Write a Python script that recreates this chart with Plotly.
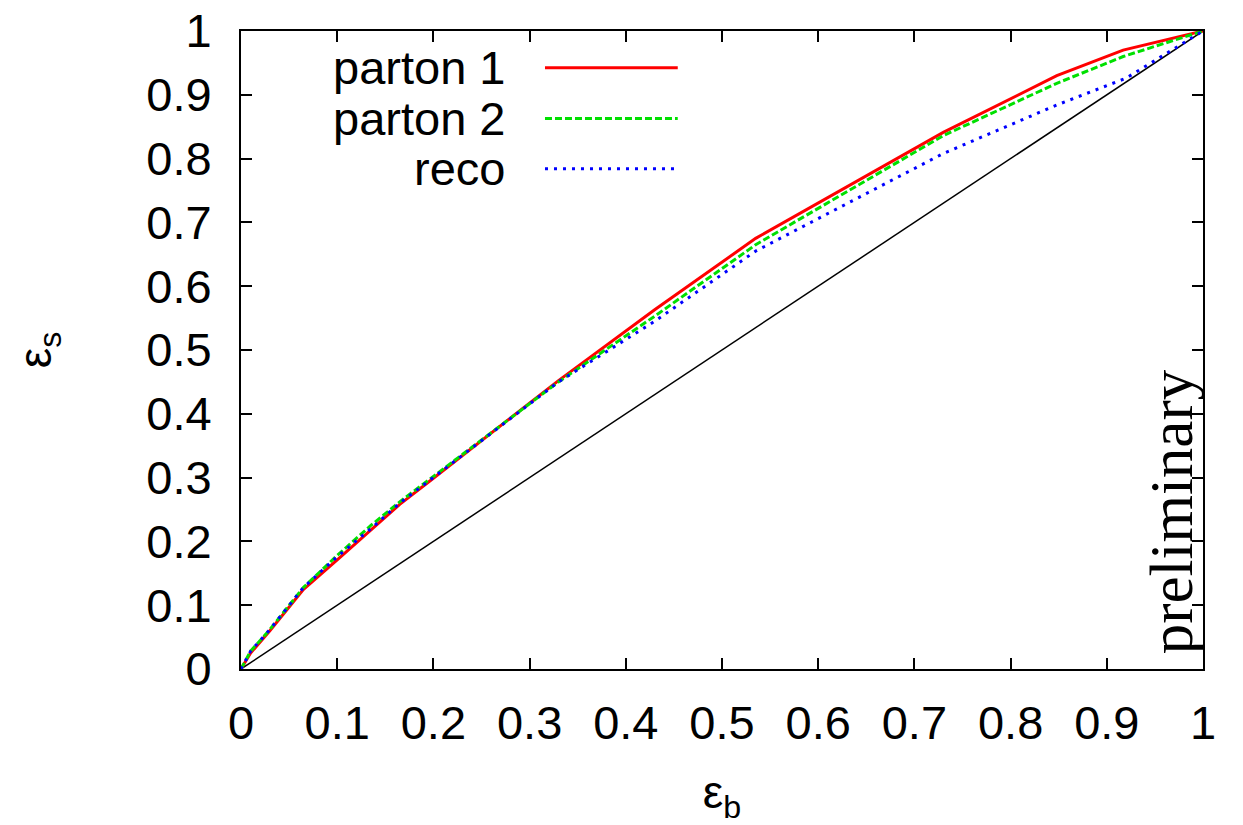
import plotly.graph_objects as go

# Data
parton1_x = [0, 0.01, 0.03, 0.065, 0.1, 0.135, 0.165, 0.2, 0.33, 0.43, 0.535, 0.73, 0.848, 0.917, 1.0]
parton1_y = [0, 0.025, 0.06, 0.125, 0.171, 0.218, 0.258, 0.299, 0.452, 0.563, 0.675, 0.841, 0.930, 0.970, 1.0]

parton2_x = [0, 0.01, 0.03, 0.065, 0.1, 0.135, 0.165, 0.2, 0.33, 0.43, 0.535, 0.73, 0.848, 0.917, 1.0]
parton2_y = [0, 0.028, 0.062, 0.128, 0.178, 0.225, 0.262, 0.302, 0.450, 0.553, 0.665, 0.836, 0.918, 0.960, 1.0]

reco_x = [0, 0.01, 0.03, 0.065, 0.1, 0.135, 0.165, 0.2, 0.33, 0.43, 0.535, 0.73, 0.848, 0.92, 1.0]
reco_y = [0, 0.028, 0.062, 0.128, 0.176, 0.220, 0.260, 0.300, 0.450, 0.545, 0.655, 0.808, 0.884, 0.926, 1.0]

diag_x = [0, 1]
diag_y = [0, 1]

tick_vals = [0, 0.1, 0.2, 0.3, 0.4, 0.5, 0.6, 0.7, 0.8, 0.9, 1.0]
tick_text = ["0", "0.1", "0.2", "0.3", "0.4", "0.5", "0.6", "0.7", "0.8", "0.9", "1"]

series = [
    ("parton 1", parton1_x, parton1_y, "#ff0000", "solid"),
    ("parton 2", parton2_x, parton2_y, "#00e000", "7px,3px"),
    ("reco", reco_x, reco_y, "#0000ff", "3px,6px"),
]

FONT = "Liberation Sans, Arial, sans-serif"

fig = go.Figure()
fig.add_trace(go.Scatter(x=diag_x, y=diag_y, mode="lines",
                         line=dict(color="black", width=1.5), showlegend=False))
for name, xs, ys, col, dash in series:
    fig.add_trace(go.Scatter(x=xs, y=ys, mode="lines", name=name,
                             line=dict(color=col, width=3, dash=dash), showlegend=False))

# manual gnuplot-style legend (text right-aligned, sample to the right)
leg_y = [0.9425, 0.863, 0.784]
shapes = []
annotations = []
for (name, xs, ys, col, dash), yy in zip(series, leg_y):
    shapes.append(dict(type="line", xref="paper", yref="paper", x0=0.316, x1=0.454,
                       y0=yy, y1=yy, line=dict(color=col, width=3, dash=dash)))
    annotations.append(dict(text=name, xref="paper", yref="paper", x=0.2765, y=yy,
                            xanchor="right", yanchor="middle", showarrow=False,
                            font=dict(family=FONT, size=47, color="black")))

annotations.append(dict(text="preliminary", xref="paper", yref="paper", x=0.967, y=0.246,
                        xanchor="center", yanchor="middle", textangle=-90, showarrow=False,
                        font=dict(family="Liberation Serif, Times New Roman, serif", size=61,
                                  color="black")))

axis_common = dict(range=[0, 1], tickvals=tick_vals, ticktext=tick_text,
                   ticks="inside", ticklen=11, tickwidth=1.5, tickcolor="black",
                   showline=True, linecolor="black", linewidth=2, mirror="ticks",
                   showgrid=False, zeroline=False, automargin=False,
                   tickfont=dict(family=FONT, size=47, color="black"))

fig.update_layout(
    width=1243, height=825,
    margin=dict(l=241, r=40, t=31, b=156),
    plot_bgcolor="white", paper_bgcolor="white",
    xaxis=dict(**axis_common, ticklabelstandoff=12,
               title=dict(text="ε<sub>b</sub>", font=dict(family=FONT, size=46, color="black"),
                          standoff=30)),
    yaxis=dict(**axis_common, ticklabelstandoff=18,
               title=dict(text="ε<sub>s</sub>", font=dict(family=FONT, size=46, color="black"),
                          standoff=80)),
    shapes=shapes,
    annotations=annotations,
)

fig.write_html("out.html")
